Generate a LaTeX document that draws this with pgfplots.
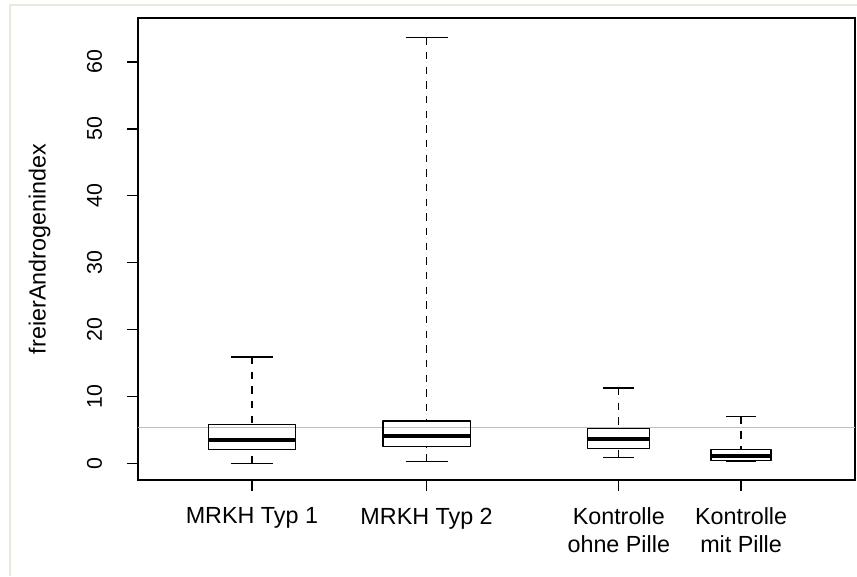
\documentclass[border=0pt]{standalone}
\usepackage{pgfplots}
\pgfplotsset{compat=1.18}
\usepgfplotslibrary{statistics}
\usepackage{fontspec}
\setmainfont{Liberation Sans}
\definecolor{framec}{RGB}{236,233,220}
\definecolor{refline}{RGB}{190,190,190}
\pgfplotsset{
  boxplot/draw direction=y,
  boxplot/draw/lower whisker/.code={%
    \draw[dash pattern=on 5.5pt off 5.5pt]
      (boxplot cs:\pgfplotsboxplotvalue{lower whisker}) -- (boxplot cs:\pgfplotsboxplotvalue{lower quartile});
    \draw (boxplot whisker cs:\pgfplotsboxplotvalue{lower whisker},0) -- (boxplot whisker cs:\pgfplotsboxplotvalue{lower whisker},1);
  },
  boxplot/draw/upper whisker/.code={%
    \draw[dash pattern=on 5.5pt off 5.5pt]
      (boxplot cs:\pgfplotsboxplotvalue{upper whisker}) -- (boxplot cs:\pgfplotsboxplotvalue{upper quartile});
    \draw (boxplot whisker cs:\pgfplotsboxplotvalue{upper whisker},0) -- (boxplot whisker cs:\pgfplotsboxplotvalue{upper whisker},1);
  },
  boxplot/every median/.style={line width=3.1pt},
}
\begin{document}
\begin{tikzpicture}
\useasboundingbox[fill=white] (0,0) rectangle (642.75pt,432pt);
\draw[framec, line width=1pt] (7.5pt,0) -- (7.5pt,428.25pt) -- (642.75pt,428.25pt);
\begin{axis}[
  at={(103.5pt,72pt)}, anchor=south west,
  scale only axis, width=537.75pt, height=346.5pt,
  xmin=0.348, xmax=4.452, ymin=-2.5, ymax=66.57,
  axis line style={line width=1pt},
  tick pos=left, tick align=outside,
  major tick length=8.25pt,
  tick style={line width=1pt, black},
  xtick={1,2,3.1,3.8},
  xticklabels={MRKH Typ 1, MRKH Typ 2, {Kontrolle\\ohne Pille}, {Kontrolle\\mit Pille}},
  xticklabel style={align=center, anchor=north, font=\fontsize{17.5}{21}\selectfont},
  xticklabel shift=9pt,
  ytick={0,10,20,30,40,50,60},
  /pgf/number format/assume math mode=true,
  yticklabel style={rotate=90, anchor=center, font=\fontsize{16}{18}\selectfont},
  yticklabel shift=24.4pt,
  ylabel={freierAndrogenindex},
  every axis y label/.style={at={(axis description cs:-0.1374,0.5)}, rotate=90, anchor=center, font=\fontsize{17.5}{20}\selectfont},
  clip=false,
]
\addplot[refline, line width=0.9pt] coordinates {(0.348,5.33) (4.452,5.33)};
\addplot[black, line width=1pt, line join=round, boxplot prepared={draw position=1, lower whisker=0.0, lower quartile=2.1, median=3.44, upper quartile=5.78, upper whisker=15.9, box extend=0.5, whisker extend=0.24}] coordinates {};
\addplot[black, line width=1pt, line join=round, boxplot prepared={draw position=2, lower whisker=0.24, lower quartile=2.49, median=4.09, upper quartile=6.33, upper whisker=63.7, box extend=0.5, whisker extend=0.24}] coordinates {};
\addplot[black, line width=1pt, line join=round, boxplot prepared={draw position=3.1, lower whisker=0.9, lower quartile=2.25, median=3.59, upper quartile=5.18, upper whisker=11.27, box extend=0.355, whisker extend=0.177}] coordinates {};
\addplot[black, line width=1pt, line join=round, boxplot prepared={draw position=3.8, lower whisker=0.24, lower quartile=0.45, median=1.1, upper quartile=2.04, upper whisker=6.98, box extend=0.343, whisker extend=0.168}] coordinates {};
\end{axis}
\end{tikzpicture}
\end{document}
